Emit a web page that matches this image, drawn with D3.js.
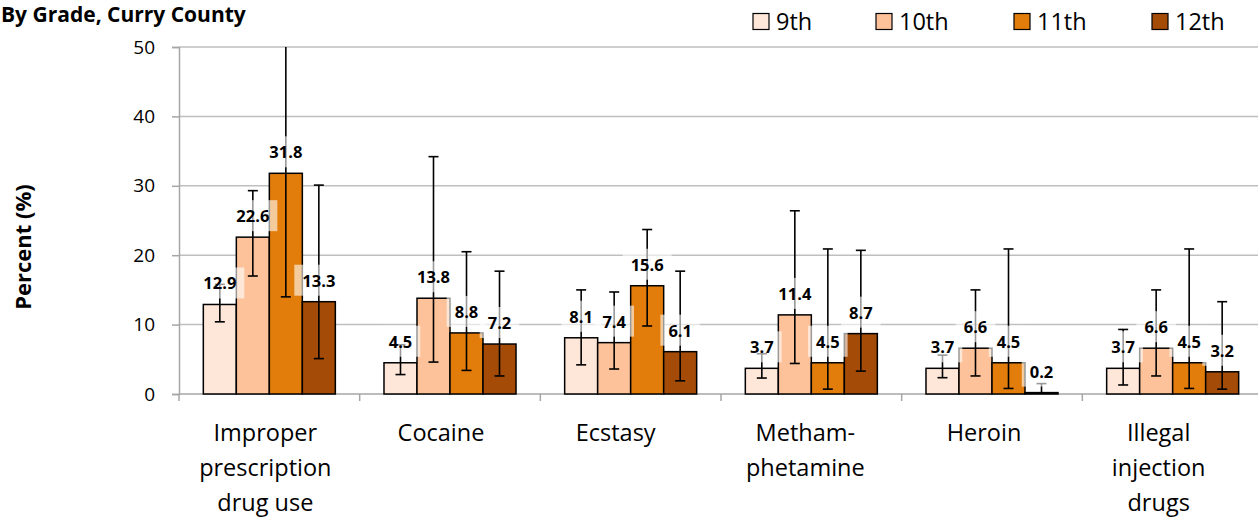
<!DOCTYPE html>
<html><head><meta charset="utf-8">
<script src="https://cdn.jsdelivr.net/npm/d3@7"></script>
<style>
html,body{margin:0;padding:0;background:#fff;overflow:hidden;}
svg{display:block;font-family:"Open Sans", sans-serif;}
</style></head>
<body>
<svg id="c" width="1258" height="517"></svg>
<script>
const categories = [["Improper","prescription","drug use"],["Cocaine"],["Ecstasy"],["Metham-","phetamine"],["Heroin"],["Illegal","injection","drugs"]];
const grades = ["9th","10th","11th","12th"];
const colors = ["#FEE6D9","#FDC29A","#E27D0B","#A34B07"];
const values = {
  "9th":  [12.9, 4.5, 8.1, 3.7, 3.7, 3.7],
  "10th": [22.6, 13.8, 7.4, 11.4, 6.6, 6.6],
  "11th": [31.8, 8.8, 15.6, 4.5, 4.5, 4.5],
  "12th": [13.3, 7.2, 6.1, 8.7, 0.2, 3.2]
};
const lower = {
  "9th":  [10.4, 2.8, 4.2, 2.3, 2.35, 1.3],
  "10th": [17.0, 4.6, 3.6, 4.4, 2.6, 2.6],
  "11th": [14.0, 3.4, 9.8, 0.7, 0.8, 0.8],
  "12th": [5.1, 2.6, 1.9, 3.3, 0.0, 0.7]
};
const upper = {
  "9th":  [15.8, 7.1, 15.0, 5.8, 5.6, 9.3],
  "10th": [29.3, 34.2, 14.7, 26.4, 15.0, 15.0],
  "11th": [55.0, 20.5, 23.7, 20.9, 20.9, 20.9],
  "12th": [30.1, 17.7, 17.7, 20.7, 1.5, 13.3]
};
const yTicks = [0,10,20,30,40,50];
// layout: small horizontal nudges of category labels seen in the original
const catLabelDx = [-4, -9, -15, -6, -8, -14];

const svg = d3.select("#c");
const catIdx = d3.range(categories.length);
const x0 = d3.scaleBand().domain(catIdx).range([179, 1263]).padding(0);
const x1 = d3.scaleBand().domain(grades).range([0, x0.bandwidth()]).paddingInner(0).paddingOuter(0.737);
const y = d3.scaleLinear().domain([0,50]).range([394, 47]);
const color = d3.scaleOrdinal().domain(grades).range(colors);

const clipTop = y(50);
svg.append("defs").append("clipPath").attr("id","pc").append("rect")
  .attr("x",0).attr("y",clipTop).attr("width",1258).attr("height",y(0)-clipTop+1);

// gridlines
svg.append("g").selectAll("line").data(yTicks.filter(d=>d>0)).join("line")
  .attr("x1",179).attr("x2",1263).attr("y1",d=>y(d)).attr("y2",d=>y(d))
  .attr("stroke","#BFBFBF").attr("stroke-width",1.5);

// y axis
const yAxis = svg.append("g").attr("transform","translate(179,0)")
  .call(d3.axisLeft(y).tickValues(yTicks).tickSize(7).tickPadding(17));
yAxis.select(".domain").attr("stroke","#A6A6A6").attr("stroke-width",1.5);
yAxis.selectAll(".tick line").attr("stroke","#A6A6A6").attr("stroke-width",1.5);
yAxis.selectAll(".tick text").attr("font-size",19).attr("fill","#000").attr("font-family","'Open Sans', sans-serif");

// x axis
const xAxisG = svg.append("g");
xAxisG.append("line").attr("x1",179).attr("x2",1263).attr("y1",y(0)).attr("y2",y(0))
  .attr("stroke","#A6A6A6").attr("stroke-width",1.5);
xAxisG.selectAll("line.tk").data(d3.range(categories.length+1)).join("line").attr("class","tk")
  .attr("x1",d=>179 + d*x0.step()).attr("x2",d=>179 + d*x0.step())
  .attr("y1",y(0)).attr("y2",y(0)+7).attr("stroke","#A6A6A6").attr("stroke-width",1.5);

// category labels
const catG = svg.append("g");
catIdx.forEach(i=>{
  const cx = x0(i)+x0.bandwidth()/2 + catLabelDx[i];
  const t = catG.append("text").attr("x", cx).attr("y", 441)
    .attr("text-anchor","middle").attr("font-size",23.5).attr("fill","#000");
  categories[i].forEach((ln,j)=>{
    t.append("tspan").attr("x", cx).attr("y", 441 + j*35).text(ln);
  });
});

// bars
const plot = svg.append("g").attr("clip-path","url(#pc)");
const rows = [];
grades.forEach(g=>{
  catIdx.forEach(i=>{
    rows.push({g, i, v: values[g][i], lo: lower[g][i], hi: upper[g][i]});
  });
});
plot.selectAll("rect.bar").data(rows).join("rect").attr("class","bar")
  .attr("x", d=>x0(d.i)+x1(d.g)).attr("width", x1.bandwidth())
  .attr("y", d=>y(d.v)).attr("height", d=>y(0)-y(d.v))
  .attr("fill", d=>color(d.g)).attr("stroke","#000").attr("stroke-width",1.5);

// error bars
const eb = plot.append("g").attr("stroke","#000").attr("stroke-width",1.6);
rows.forEach(d=>{
  const cx = x0(d.i)+x1(d.g)+x1.bandwidth()/2;
  eb.append("line").attr("x1",cx).attr("x2",cx).attr("y1",y(d.lo)).attr("y2",y(d.hi));
  if (d.hi <= 50) eb.append("line").attr("x1",cx-5).attr("x2",cx+5).attr("y1",y(d.hi)).attr("y2",y(d.hi));
  if (d.lo > 0) eb.append("line").attr("x1",cx-5).attr("x2",cx+5).attr("y1",y(d.lo)).attr("y2",y(d.lo));
});

// data labels
const lab = svg.append("g");
rows.forEach(d=>{
  const cx = x0(d.i)+x1(d.g)+x1.bandwidth()/2;
  const base = y(d.v) - 15;
  const t = lab.append("text").attr("x",cx).attr("y",base)
    .attr("text-anchor","middle").attr("font-size",16.5).attr("font-weight","bold").attr("fill","#000")
    .text(d.v.toFixed(1));
  const w = t.node().getComputedTextLength();
  lab.insert("rect", () => t.node()).attr("x", cx - w/2 - 8).attr("y", y(d.v) - 37)
    .attr("width", w + 16).attr("height", 31).attr("fill","#fff").attr("fill-opacity",0.6);
});

// y axis title
svg.append("text").attr("transform","translate(31,247) rotate(-90)")
  .attr("text-anchor","middle").attr("font-size",22).attr("font-weight","bold").text("Percent (%)");

// chart title
svg.append("text").attr("x",1).attr("y",22).attr("text-anchor","start")
  .attr("font-size",21).attr("font-weight","bold").text("By Grade, Curry County");

// legend
const legX = [753, 876, 1014, 1152];
const leg = svg.append("g");
grades.forEach((g,k)=>{
  leg.append("rect").attr("x",legX[k]).attr("y",13.5).attr("width",16).attr("height",16)
    .attr("fill",color(g)).attr("stroke","#000").attr("stroke-width",1.2);
  leg.append("text").attr("x",legX[k]+23).attr("y",30)
    .attr("font-size",23.5).attr("fill","#000").text(g);
});
</script>
</body></html>
